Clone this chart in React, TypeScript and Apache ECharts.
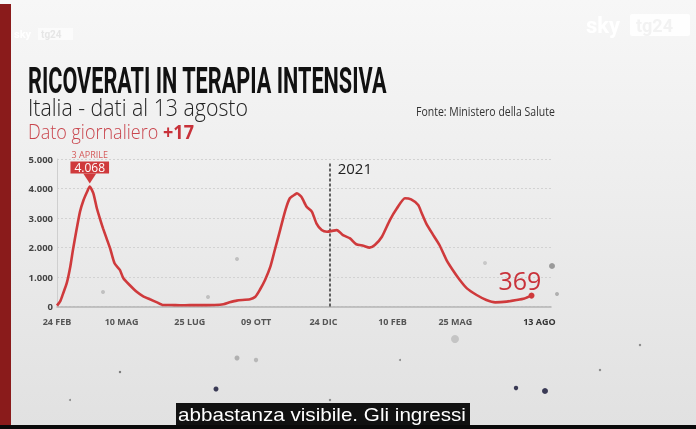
import React, { useEffect, useRef } from 'react';
import * as echarts from 'echarts';

// Days since 24 Feb 2020 and ICU patients
const dayIndex = [0, 4, 7, 11, 15, 18, 22, 26, 30, 34, 37, 41, 45, 49, 52, 56, 60, 65, 71, 75, 82, 90, 97, 105, 113, 120, 128, 139, 150, 165, 178, 188, 195, 203, 218, 224, 229, 235, 241, 246, 252, 258, 263, 269, 271, 276, 282, 288, 293, 299, 305, 316, 323, 331, 338, 346, 353, 359, 367, 376, 384, 393, 400, 408, 412, 417, 425, 432, 440, 447, 455, 463, 474, 485, 495, 508, 519, 528, 536];
const icuValues = [30, 200, 450, 790, 1350, 1915, 2590, 3215, 3610, 3890, 4068, 3840, 3330, 2930, 2650, 2310, 1970, 1465, 1240, 955, 730, 500, 355, 245, 140, 50, 50, 40, 45, 45, 50, 75, 140, 200, 245, 330, 560, 900, 1350, 1915, 2590, 3270, 3670, 3800, 3840, 3720, 3380, 3210, 2820, 2590, 2535, 2590, 2420, 2310, 2110, 2060, 1995, 2085, 2365, 2930, 3330, 3670, 3630, 3440, 3160, 2820, 2420, 2085, 1575, 1240, 900, 615, 390, 220, 140, 165, 220, 275, 369];

const xTickDays = [0, 73, 150, 225, 301, 379, 450, 545];
const xTickLabels = ['24 FEB', '10 MAG', '25 LUG', '09 OTT', '24 DIC', '10 FEB', '25 MAG', '13 AGO'];

const peakDay = 37;
const peakValue = 4068;
const peakDate = '3 APRILE';
const yearMarkDay = 308;
const yearLabel = '2021';

const titleText = 'RICOVERATI IN TERAPIA INTENSIVA';
const subtitleText = 'Italia - dati al 13 agosto';
const dailyLabel = 'Dato giornaliero ';
const dailyValue = '+17';
const sourceText = 'Fonte: Ministero della Salute';
const captionText = 'abbastanza visibile. Gli ingressi';

const RED = '#cf3a3c';

const fmt = (v: number) => String(Math.round(v)).replace(/\B(?=(\d{3})+(?!\d))/g, '.');

function measure(text: string, font: string): number {
  const ctx = document.createElement('canvas').getContext('2d');
  if (!ctx) return text.length * 10;
  ctx.font = font;
  return ctx.measureText(text).width;
}

const dots: [number, number, number, string][] = [
  [455, 339, 4, '#c4c4c4'], [237, 358, 2.5, '#b0b0b0'], [256, 360, 2.2, '#b8b8b8'],
  [216, 389, 2.5, '#3a3a55'], [516, 388, 2.2, '#3a3a55'], [545, 391, 3, '#3a3a55'],
  [552, 266, 3, '#9a9a9a'], [485, 263, 2, '#c8c8c8'], [557, 294, 2, '#b0b0b0'],
  [237, 259, 2, '#c0c0c0'], [208, 297, 2, '#c0c0c0'], [103, 292, 2, '#c0c0c0'],
  [330, 400, 1.2, '#888'], [120, 372, 1.2, '#777'], [600, 370, 1.2, '#888'],
  [640, 345, 1.2, '#888'], [400, 360, 1, '#888'], [70, 400, 1, '#888'],
];

export default function App() {
  const ref = useRef<HTMLDivElement>(null);
  useEffect(() => {
    if (!ref.current) return;
    document.body.style.margin = '0';
    const chart = echarts.init(ref.current, undefined, { renderer: 'svg' });

    const titleFont = 'bold 36px Roboto';
    const titleScale = 359 / measure(titleText, titleFont);
    const subFont = '300 24px "Open Sans"';
    const subScale = 220 / measure(subtitleText, subFont);
    const dLight = '300 20px "Open Sans"';
    const dBold = 'bold 20px "Open Sans"';
    const dailyScale = 166 / (measure(dailyLabel, dLight) + measure(dailyValue, dBold));
    const srcFont = '12px "Open Sans"';
    const srcScale = 139 / measure(sourceText, srcFont);
    const capFont = '18px "Liberation Sans"';
    const capScale = 288 / measure(captionText, capFont);

    const data = dayIndex.map((d, i) => [d, icuValues[i]]);
    const last = data[data.length - 1];

    const graphic: any[] = [
      {
        type: 'rect', z: -10, silent: true,
        shape: { x: 0, y: 0, width: 696, height: 429 },
        style: {
          fill: new echarts.graphic.LinearGradient(0, 0, 0, 1, [
            { offset: 0, color: '#f7f7f7' },
            { offset: 0.5, color: '#ececec' },
            { offset: 1, color: '#e1e1e1' },
          ]),
        },
      },
      { type: 'rect', z: -9, shape: { x: 0, y: 4, width: 11, height: 425 }, style: { fill: '#8a1b1b' } },
      { type: 'rect', z: -9, shape: { x: 0, y: 425, width: 696, height: 4 }, style: { fill: '#0a0a0a' } },
      ...dots.map(([cx, cy, r, c]) => ({ type: 'circle', z: -8, shape: { cx, cy, r }, style: { fill: c } })),
      // logos (faint)
      { type: 'text', x: 14, y: 34, style: { text: 'sky', font: 'bold 11px Roboto', fill: '#ffffff', verticalAlign: 'middle' } },
      { type: 'rect', shape: { x: 38, y: 28, width: 35, height: 12 }, style: { fill: '#ffffff', opacity: 0.6 } },
      { type: 'text', x: 41, y: 34, style: { text: 'tg24', font: 'bold 10px Roboto', fill: '#e6e6e6', verticalAlign: 'middle' } },
      { type: 'text', x: 586, y: 25, style: { text: 'sky', font: 'bold 22px Roboto', fill: '#ffffff', verticalAlign: 'middle' } },
      { type: 'rect', shape: { x: 630, y: 14, width: 60, height: 22, r: 2 }, style: { fill: '#ffffff', opacity: 0.85 } },
      { type: 'text', x: 636, y: 25, style: { text: 'tg24', font: 'bold 18px Roboto', fill: '#f2f2f2', verticalAlign: 'middle' } },
      // titles
      { type: 'text', x: 28, y: 80, scaleX: titleScale, style: { text: titleText, font: titleFont, fill: '#111', verticalAlign: 'middle' } },
      { type: 'text', x: 28, y: 107.5, scaleX: subScale, style: { text: subtitleText, font: subFont, fill: '#222', verticalAlign: 'middle' } },
      {
        type: 'text', x: 28, y: 131.5, scaleX: dailyScale,
        style: {
          text: '{l|' + dailyLabel + '}{b|' + dailyValue + '}', verticalAlign: 'middle',
          rich: {
            l: { fontSize: 20, fontFamily: 'Open Sans', fontWeight: 300, fill: '#c9454d' },
            b: { fontSize: 20, fontFamily: 'Open Sans', fontWeight: 'bold', fill: '#c8323a' },
          },
        },
      },
      { type: 'text', x: 416, y: 111.5, scaleX: srcScale, style: { text: sourceText, font: srcFont, fill: '#333', verticalAlign: 'middle' } },
      // caption
      { type: 'rect', shape: { x: 176, y: 403, width: 294, height: 22 }, style: { fill: '#111' } },
      { type: 'text', x: 178, y: 414, scaleX: capScale, style: { text: captionText, font: capFont, fill: '#fff', verticalAlign: 'middle' } },
    ];

    chart.setOption({
      animation: false,
      grid: { left: 57, right: 145, top: 159, bottom: 122.5 },
      graphic,
      xAxis: {
        type: 'value', min: 0, max: 558,
        axisLine: { show: true, lineStyle: { color: '#b5b5b5', width: 1.5 } },
        axisTick: { show: false },
        splitLine: { show: false },
        axisLabel: {
          customValues: xTickDays,
          margin: 10,
          fontSize: 9,
          fontWeight: 'bold',
          fontFamily: 'Open Sans',
          color: '#555',
          formatter: (v: number) => {
            const i = xTickDays.indexOf(v);
            if (i < 0) return '';
            return i === xTickDays.length - 1 ? '{e|' + xTickLabels[i] + '}' : xTickLabels[i];
          },
          rich: { e: { fontSize: 9, fontWeight: 'bold', fontFamily: 'Open Sans', color: '#333' } },
        },
      },
      yAxis: {
        type: 'value', min: 0, max: 5000, interval: 1000,
        axisLine: { show: true, lineStyle: { color: '#cfcfcf', width: 1 } },
        axisTick: { show: false },
        splitLine: { show: true, lineStyle: { color: '#d2d2d2', type: [2, 2], width: 1 } },
        axisLabel: { margin: 4, fontSize: 9.5, fontWeight: 'bold', fontFamily: 'Open Sans', color: '#444', formatter: fmt },
      },
      series: [
        {
          type: 'line',
          data,
          smooth: 0.2,
          showSymbol: false,
          lineStyle: { color: RED, width: 2.6 },
          z: 5,
          markLine: {
            silent: true,
            symbol: 'none',
            label: { show: false },
            lineStyle: { color: '#333', type: [3, 2], width: 1.5 },
            data: [[{ coord: [yearMarkDay, 0] }, { coord: [yearMarkDay, 4880] }]],
          },
          markPoint: {
            silent: true,
            data: [
              {
                coord: [peakDay, peakValue],
                symbol: 'triangle', symbolRotate: 180, symbolSize: [13, 10], symbolOffset: [0, -8],
                itemStyle: { color: RED },
                label: {
                  show: true, position: 'top', distance: 0,
                  formatter: fmt(peakValue),
                  fontSize: 12, color: '#fff', backgroundColor: RED, fontFamily: 'Open Sans',
                  fontWeight: 500, lineHeight: 11, padding: [1, 4, 0, 4],
                },
              },
              {
                coord: [peakDay, peakValue],
                symbol: 'circle', symbolSize: 0,
                label: {
                  show: true, position: [0, -32], align: 'center', verticalAlign: 'middle',
                  formatter: peakDate, fontSize: 9, color: '#d55a5a', fontFamily: 'Open Sans',
                },
              },
              {
                coord: last,
                symbol: 'circle', symbolSize: 6,
                itemStyle: { color: RED },
                label: {
                  show: true, position: [-30, -25],
                  formatter: String(last[1]),
                  fontSize: 25, color: '#c9323a', fontFamily: 'Open Sans',
                },
              },
              {
                coord: [yearMarkDay, 4680],
                symbol: 'circle', symbolSize: 0,
                label: { show: true, position: 'right', distance: 8, formatter: yearLabel, fontSize: 15, color: '#222', fontFamily: 'Open Sans' },
              },
            ],
          },
        },
      ],
    });
    return () => chart.dispose();
  }, []);
  return <div ref={ref} style={{ position: 'fixed', left: 0, top: 0, width: 696, height: 429 }} />;
}
